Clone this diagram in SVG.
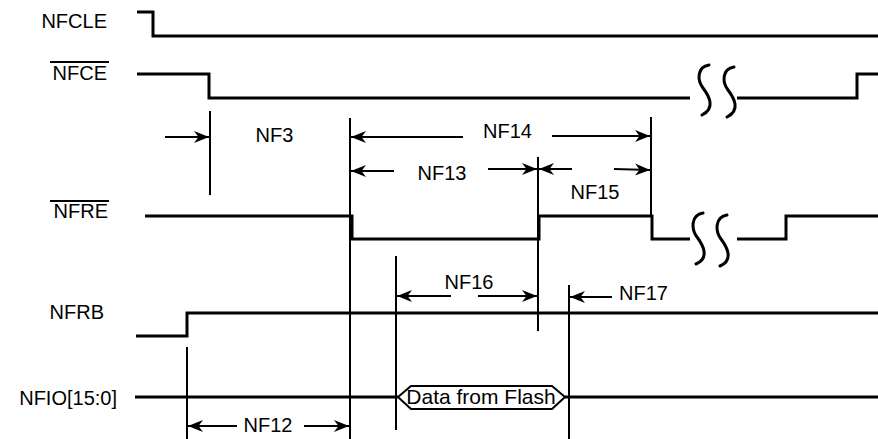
<svg xmlns="http://www.w3.org/2000/svg" width="878" height="439" viewBox="0 0 878 439">
<defs>
<style>
text{font-family:"Liberation Sans",Arial,sans-serif;font-size:20px;fill:#000}
.lbl{text-anchor:end}
.mid{text-anchor:middle}
.sig{fill:none;stroke:#000;stroke-width:3;stroke-linejoin:miter}
.sq{fill:none;stroke:#000;stroke-width:3;stroke-linecap:round}
.vl{stroke:#000;stroke-width:2}
.ar{stroke:#000;stroke-width:2;marker-end:url(#ah)}
.ov{stroke:#000;stroke-width:2}
</style>
<marker id="ah" markerUnits="userSpaceOnUse" markerWidth="18" markerHeight="14" refX="15" refY="7" orient="auto">
<path d="M15,7 L0,1 L4.5,7 L0,13 Z" fill="#000"/>
</marker>
</defs>
<rect width="878" height="439" fill="#fff"/>
<g id="labels">
<text class="lbl" x="107" y="28">NFCLE</text>
<text class="lbl" x="107" y="80">NFCE</text>
<line class="ov" x1="50" y1="62" x2="109" y2="62"/>
<text class="lbl" x="108" y="218">NFRE</text>
<line class="ov" x1="50" y1="201" x2="109" y2="201"/>
<text class="lbl" x="104" y="319">NFRB</text>
<text class="lbl" x="117" y="405">NFIO[15:0]</text>
</g>
<g id="signals">
<path id="nfcle" class="sig" d="M137,12 H153 V36 H878"/>
<path id="nfce" class="sig" d="M137,74 H209 V98 H690 M737,98 H857 V74 H878"/>
<path class="sq" d="M709,65 C697,67 697,80 703,88 C709,96 716,108 702,115"/>
<path class="sq" d="M734,67 C722,69 722,82 728,90 C734,98 741,110 727,117"/>
<path id="nfre" class="sig" d="M145,216 H352 V239 H539 V216 H652 V239 H690 M737,239 H786 V216 H878"/>
<path class="sq" d="M703,213 C691,215 691,229 697,237 C703,245 710,258 696,264"/>
<path class="sq" d="M727,215 C715,217 715,231 721,239 C727,247 734,260 720,266"/>
<path id="nfrb" class="sig" d="M136,336 H187 V313 H878"/>
<path id="nfio" class="sig" d="M135,397 H398 M565,397 H878"/>
<g id="data">
<path d="M398,397 L411,386 H552 L565,397 L552,409 H411 Z" fill="#fff" stroke="#000" stroke-width="2"/>
<text class="mid" x="481" y="404" style="font-size:21px">Data from Flash</text>
</g>
</g>
<g id="connectors">
<line class="vl" x1="210" y1="111" x2="210" y2="195"/>
<line class="vl" x1="350" y1="118" x2="350" y2="439"/>
<line class="vl" x1="651" y1="117" x2="651" y2="217"/>
<line class="vl" x1="538" y1="157" x2="538" y2="331"/>
<line class="vl" x1="187" y1="347" x2="187" y2="439"/>
<line class="vl" x1="396" y1="256" x2="396" y2="430"/>
<line class="vl" x1="569" y1="285" x2="569" y2="439"/>
<line class="ar" x1="165" y1="137" x2="209" y2="137"/>
<line class="ar" x1="463" y1="137" x2="351" y2="137"/>
<line class="ar" x1="552" y1="136" x2="650" y2="136"/>
<line class="ar" x1="394" y1="171" x2="351" y2="171"/>
<line class="ar" x1="488" y1="169" x2="537" y2="169"/>
<line class="ar" x1="572" y1="169" x2="539" y2="169"/>
<line class="ar" x1="614" y1="169" x2="650" y2="170"/>
<line class="ar" x1="451" y1="296" x2="397" y2="296"/>
<line class="ar" x1="478" y1="296" x2="537" y2="296"/>
<line class="ar" x1="612" y1="297" x2="570" y2="297"/>
<line class="ar" x1="237" y1="426" x2="188" y2="426"/>
<line class="ar" x1="304" y1="426" x2="349" y2="426"/>
</g>
<g id="timing-labels">
<text class="mid" x="274.5" y="142">NF3</text>
<text class="mid" x="507.5" y="138">NF14</text>
<text class="mid" x="442" y="180">NF13</text>
<text class="mid" x="595" y="199">NF15</text>
<text class="mid" x="469" y="289">NF16</text>
<text x="619" y="300">NF17</text>
<text class="mid" x="268" y="432">NF12</text>
</g>
</svg>
